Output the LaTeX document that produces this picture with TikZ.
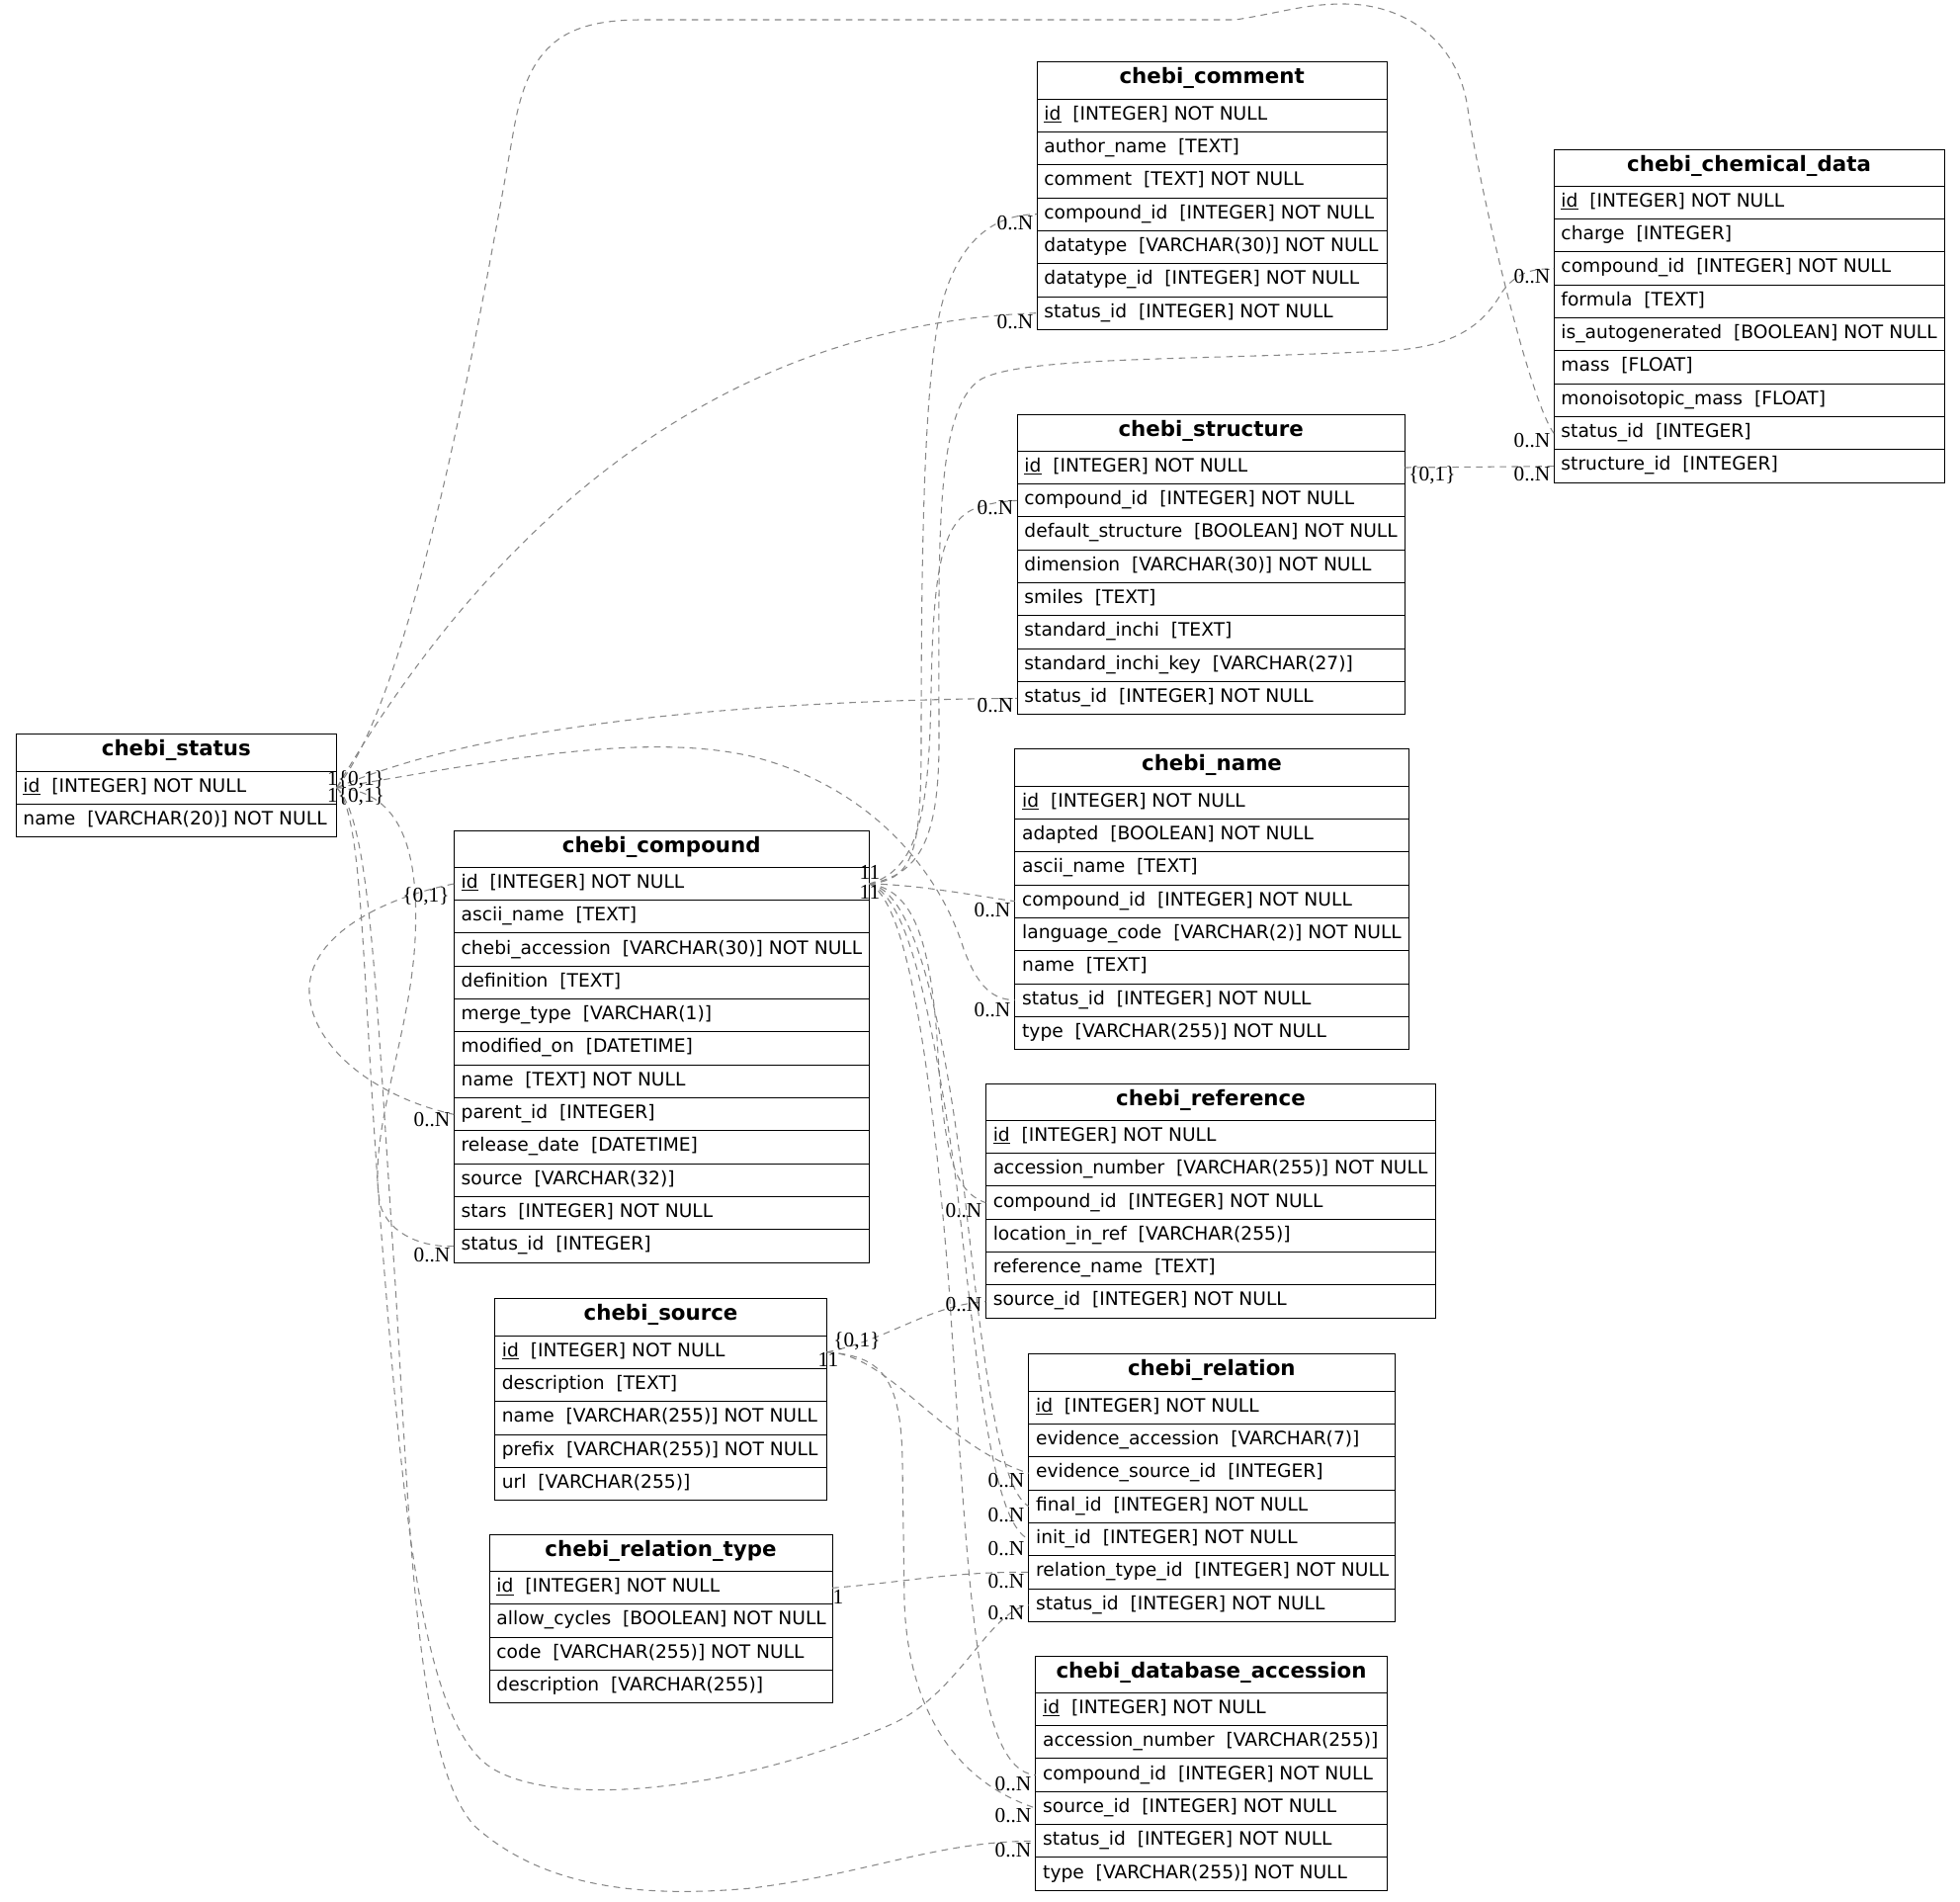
\documentclass[tikz,border=0pt]{standalone}
\usepackage{fontspec}
\setmainfont{DejaVu Sans}
\newfontfamily\lblfont{Liberation Serif}
\definecolor{edgegray}{HTML}{888888}
\newcommand{\erGap}{\ \ }
\newcommand{\erPK}[1]{\underline{#1}}
\tikzset{
 conn/.style={draw=edgegray, line width=0.8pt, dash pattern=on 5pt off 4pt},
 tabline/.style={draw=black, line width=0.9pt},
 hdrbox/.style={fill=white, rectangle, anchor=north west, outer sep=0pt,
   inner xsep=5.6pt, inner ysep=0pt, minimum height=28pt, text height=10.2pt, text depth=4.8pt,
   font=\fontsize{16pt}{18pt}\selectfont\bfseries},
 rowbox/.style={fill=white, rectangle, anchor=north west, outer sep=0pt,
   inner xsep=5.6pt, inner ysep=0pt, minimum height=25pt, text height=10.5pt, text depth=4pt,
   font=\fontsize{14pt}{16pt}\selectfont},
 lbl/.style={inner sep=0pt, font=\lblfont\fontsize{16pt}{18pt}\selectfont},
}
\newcommand{\erTable}[6]{%
  \pgfmathsetmacro{\erw}{(#3-#2)*0.75}%
  \pgfmathsetmacro{\ertw}{(#3-#2)*0.75-11.2}%
  \pgfmathsetmacro{\erxl}{floor(#2)+0.5}%
  \pgfmathsetmacro{\erxr}{floor(#3)+0.5}%
  \pgfmathsetmacro{\eryt}{floor(#4)+0.5}%
  \node[hdrbox, minimum width=\erw pt] (#1-h) at (#2,#4) {\makebox[\ertw pt][c]{#5}};
  \foreach \rowtext [count=\ri] in {#6} {%
    \node[rowbox, minimum width=\erw pt] (#1-r\ri) at (#2,{#4+37.33+(\ri-1)*33.33}) {\makebox[\ertw pt][l]{\rowtext}};
    \pgfmathsetmacro{\erys}{floor(#4+37.33+(\ri-1)*33.33)+0.5}%
    \draw[tabline] (\erxl,\erys) -- (\erxr,\erys);
    \xdef\ernrows{\ri}%
  }%
  \pgfmathsetmacro{\eryb}{floor(#4+37.33+\ernrows*33.33)+0.5}%
  \draw[tabline] (\erxl,\eryt) rectangle (\erxr,\eryb);
}
\begin{document}
\begin{tikzpicture}[x=0.75pt,y=-0.75pt]
\fill[white] (0,0) rectangle (1983,1923);
\useasboundingbox (0,0) rectangle (1983,1923);

% ---------- tables ----------
\erTable{status}{16}{340.7}{742.7}{chebi\_status}{%
 \erPK{id}\erGap[INTEGER] NOT NULL,
 name\erGap[VARCHAR(20)] NOT NULL}
\erTable{comment}{1049}{1403.3}{62.7}{chebi\_comment}{%
 \erPK{id}\erGap[INTEGER] NOT NULL,
 author\_name\erGap[TEXT],
 comment\erGap[TEXT] NOT NULL,
 compound\_id\erGap[INTEGER] NOT NULL,
 datatype\erGap[VARCHAR(30)] NOT NULL,
 datatype\_id\erGap[INTEGER] NOT NULL,
 status\_id\erGap[INTEGER] NOT NULL}
\erTable{chem}{1572}{1967}{151}{chebi\_chemical\_data}{%
 \erPK{id}\erGap[INTEGER] NOT NULL,
 charge\erGap[INTEGER],
 compound\_id\erGap[INTEGER] NOT NULL,
 formula\erGap[TEXT],
 is\_autogenerated\erGap[BOOLEAN] NOT NULL,
 mass\erGap[FLOAT],
 monoisotopic\_mass\erGap[FLOAT],
 status\_id\erGap[INTEGER],
 structure\_id\erGap[INTEGER]}
\erTable{structure}{1029}{1421.3}{419}{chebi\_structure}{%
 \erPK{id}\erGap[INTEGER] NOT NULL,
 compound\_id\erGap[INTEGER] NOT NULL,
 default\_structure\erGap[BOOLEAN] NOT NULL,
 dimension\erGap[VARCHAR(30)] NOT NULL,
 smiles\erGap[TEXT],
 standard\_inchi\erGap[TEXT],
 standard\_inchi\_key\erGap[VARCHAR(27)],
 status\_id\erGap[INTEGER] NOT NULL}
\erTable{name}{1026.7}{1425.3}{757.7}{chebi\_name}{%
 \erPK{id}\erGap[INTEGER] NOT NULL,
 adapted\erGap[BOOLEAN] NOT NULL,
 ascii\_name\erGap[TEXT],
 compound\_id\erGap[INTEGER] NOT NULL,
 language\_code\erGap[VARCHAR(2)] NOT NULL,
 name\erGap[TEXT],
 status\_id\erGap[INTEGER] NOT NULL,
 type\erGap[VARCHAR(255)] NOT NULL}
\erTable{compound}{459.2}{879.2}{840}{chebi\_compound}{%
 \erPK{id}\erGap[INTEGER] NOT NULL,
 ascii\_name\erGap[TEXT],
 chebi\_accession\erGap[VARCHAR(30)] NOT NULL,
 definition\erGap[TEXT],
 merge\_type\erGap[VARCHAR(1)],
 modified\_on\erGap[DATETIME],
 name\erGap[TEXT] NOT NULL,
 parent\_id\erGap[INTEGER],
 release\_date\erGap[DATETIME],
 source\erGap[VARCHAR(32)],
 stars\erGap[INTEGER] NOT NULL,
 status\_id\erGap[INTEGER]}
\erTable{reference}{997.3}{1452.7}{1096}{chebi\_reference}{%
 \erPK{id}\erGap[INTEGER] NOT NULL,
 accession\_number\erGap[VARCHAR(255)] NOT NULL,
 compound\_id\erGap[INTEGER] NOT NULL,
 location\_in\_ref\erGap[VARCHAR(255)],
 reference\_name\erGap[TEXT],
 source\_id\erGap[INTEGER] NOT NULL}
\erTable{source}{500.4}{836.7}{1313.7}{chebi\_source}{%
 \erPK{id}\erGap[INTEGER] NOT NULL,
 description\erGap[TEXT],
 name\erGap[VARCHAR(255)] NOT NULL,
 prefix\erGap[VARCHAR(255)] NOT NULL,
 url\erGap[VARCHAR(255)]}
\erTable{relation}{1040.6}{1411}{1369.7}{chebi\_relation}{%
 \erPK{id}\erGap[INTEGER] NOT NULL,
 evidence\_accession\erGap[VARCHAR(7)],
 evidence\_source\_id\erGap[INTEGER],
 final\_id\erGap[INTEGER] NOT NULL,
 init\_id\erGap[INTEGER] NOT NULL,
 relation\_type\_id\erGap[INTEGER] NOT NULL,
 status\_id\erGap[INTEGER] NOT NULL}
\erTable{reltype}{495}{842}{1552.3}{chebi\_relation\_type}{%
 \erPK{id}\erGap[INTEGER] NOT NULL,
 allow\_cycles\erGap[BOOLEAN] NOT NULL,
 code\erGap[VARCHAR(255)] NOT NULL,
 description\erGap[VARCHAR(255)]}
\erTable{dbacc}{1047.7}{1403.3}{1675}{chebi\_database\_accession}{%
 \erPK{id}\erGap[INTEGER] NOT NULL,
 accession\_number\erGap[VARCHAR(255)],
 compound\_id\erGap[INTEGER] NOT NULL,
 source\_id\erGap[INTEGER] NOT NULL,
 status\_id\erGap[INTEGER] NOT NULL,
 type\erGap[VARCHAR(255)] NOT NULL}

% ---------- connectors ----------
% status
\draw[conn] (status-r1.east) .. controls (420,700) and (490,300) .. (520,130)
  .. controls (535,45) and (570,20) .. (650,20) -- (1250,20)
  .. controls (1300,12) and (1320,4) .. (1360,4)
  .. controls (1420,4) and (1475,40) .. (1485,110)
  .. controls (1495,180) and (1545,400) .. (chem-r8.west);
\draw[conn] (status-r1.east) .. controls (480,560) and (700,330) .. (comment-r7.west);
\draw[conn] (status-r1.east) .. controls (450,750) and (650,710) .. (structure-r8.west);
\draw[conn] (status-r1.east) .. controls (500,770) and (650,740) .. (760,765)
  .. controls (880,795) and (950,880) .. (975,960)
  .. controls (990,1000) and (1005,1011) .. (name-r7.west);
\draw[conn] (status-r1.east) .. controls (400,800) and (425,850) .. (420,950)
  .. controls (415,1050) and (370,1150) .. (385,1220)
  .. controls (395,1250) and (430,1262) .. (compound-r12.west);
\draw[conn] (status-r1.east) .. controls (370,830) and (365,1000) .. (390,1300)
  .. controls (410,1550) and (430,1750) .. (500,1790)
  .. controls (570,1830) and (750,1810) .. (900,1745)
  .. controls (970,1715) and (1000,1630) .. (relation-r7.west);
\draw[conn] (status-r1.east) .. controls (375,830) and (380,1000) .. (400,1300)
  .. controls (415,1550) and (420,1780) .. (480,1847)
  .. controls (550,1910) and (650,1920) .. (760,1910)
  .. controls (880,1895) and (950,1862) .. (dbacc-r5.west);
% compound self loop
\draw[conn] (compound-r1.west) .. controls (380,910) and (310,950) .. (313,1005)
  .. controls (316,1060) and (380,1110) .. (compound-r8.west);
% compound
\draw[conn] (compound-r1.east) .. controls (925,890) and (932,860) .. (932,750)
  .. controls (932,550) and (935,400) .. (950,320)
  .. controls (965,250) and (1000,217) .. (comment-r4.west);
\draw[conn] (compound-r1.east) .. controls (930,885) and (950,850) .. (950,750)
  .. controls (950,550) and (945,420) .. (990,385)
  .. controls (1030,360) and (1200,365) .. (1400,355)
  .. controls (1470,352) and (1500,330) .. (1520,295)
  .. controls (1535,275) and (1550,272) .. (chem-r3.west);
\draw[conn] (compound-r1.east) .. controls (930,880) and (940,820) .. (942,700)
  .. controls (944,590) and (950,530) .. (985,515)
  .. controls (1000,509) and (1015,507) .. (structure-r2.west);
\draw[conn] (compound-r1.east) .. controls (930,895) and (980,905) .. (name-r4.west);
\draw[conn] (compound-r1.east) .. controls (920,900) and (940,940) .. (948,1050)
  .. controls (955,1170) and (965,1205) .. (reference-r3.west);
\draw[conn] (compound-r1.east) .. controls (920,900) and (950,1000) .. (975,1200)
  .. controls (995,1380) and (1010,1505) .. (relation-r4.west);
\draw[conn] (compound-r1.east) .. controls (915,905) and (940,1000) .. (968,1200)
  .. controls (990,1400) and (1005,1540) .. (relation-r5.west);
\draw[conn] (compound-r1.east) .. controls (915,910) and (940,1050) .. (960,1300)
  .. controls (980,1600) and (985,1790) .. (dbacc-r3.west);
% source
\draw[conn] (source-r1.east) .. controls (900,1355) and (940,1320) .. (reference-r6.west);
\draw[conn] (source-r1.east) .. controls (900,1370) and (950,1460) .. (relation-r3.west);
\draw[conn] (source-r1.east) .. controls (890,1372) and (912,1390) .. (913,1480) -- (915,1620)
  .. controls (918,1720) and (960,1800) .. (dbacc-r4.west);
% relation type
\draw[conn] (reltype-r1.east) .. controls (920,1600) and (960,1590) .. (relation-r6.west);
% structure -> chemical data
\draw[conn] (structure-r1.east) -- (chem-r9.west);

% ---------- cardinality labels ----------
\node[lbl] (l-st1) at (360,789) {1\{0,1\}};
\node[lbl] (l-st2) at (360,806) {1\{0,1\}};
\node[lbl] (l-cp1) at (880,882) {11};
\node[lbl] (l-cp2) at (880,902) {11};
\node[lbl] (l-cpself) at (431,907) {\{0,1\}};
\node[lbl] (l-cppar) at (437,1133) {0..N};
\node[lbl] (l-cpst) at (437,1270) {0..N};
\node[lbl] (l-cm1) at (1027,226) {0..N};
\node[lbl] (l-cm2) at (1027,326) {0..N};
\node[lbl] (l-ch1) at (1550,280) {0..N};
\node[lbl] (l-ch2) at (1550,446) {0..N};
\node[lbl] (l-ch3) at (1550,480) {0..N};
\node[lbl] (l-sr) at (1449,481) {\{0,1\}};
\node[lbl] (l-s1) at (1007,514) {0..N};
\node[lbl] (l-s2) at (1007,714) {0..N};
\node[lbl] (l-n1) at (1004,921) {0..N};
\node[lbl] (l-n2) at (1004,1022) {0..N};
\node[lbl] (l-rf1) at (975,1225) {0..N};
\node[lbl] (l-rf2) at (975,1320) {0..N};
\node[lbl] (l-so1) at (867,1357) {\{0,1\}};
\node[lbl] (l-so2) at (838,1375) {11};
\node[lbl] (l-rl1) at (1018,1498) {0..N};
\node[lbl] (l-rl2) at (1018,1533) {0..N};
\node[lbl] (l-rl3) at (1018,1567) {0..N};
\node[lbl] (l-rl4) at (1018,1600) {0..N};
\node[lbl] (l-rl5) at (1018,1632) {0..N};
\node[lbl] (l-rt) at (848,1615) {1};
\node[lbl] (l-db1) at (1025,1805) {0..N};
\node[lbl] (l-db2) at (1025,1837) {0..N};
\node[lbl] (l-db3) at (1025,1872) {0..N};
\end{tikzpicture}
\end{document}
